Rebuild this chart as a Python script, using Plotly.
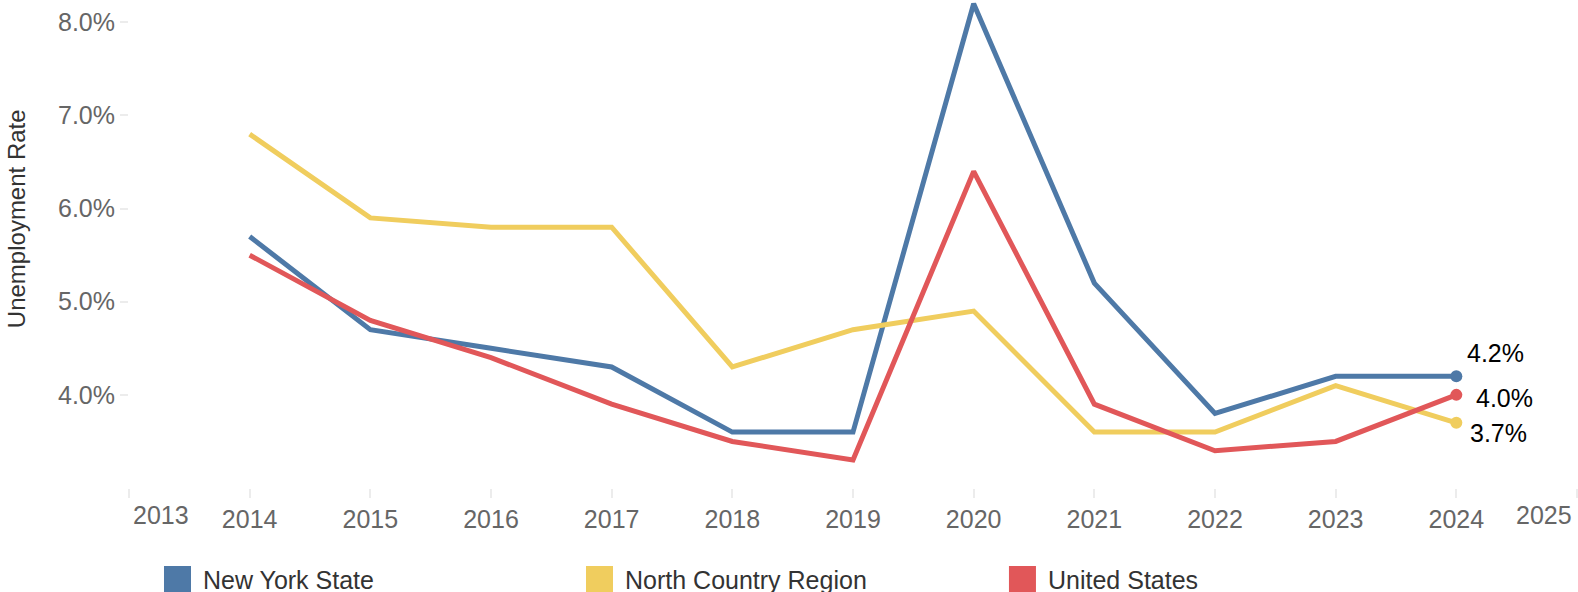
import plotly.graph_objects as go

years = [2014, 2015, 2016, 2017, 2018, 2019, 2020, 2021, 2022, 2023, 2024]
new_york_state = [5.7, 4.7, 4.5, 4.3, 3.6, 3.6, 8.2, 5.2, 3.8, 4.2, 4.2]
north_country = [6.8, 5.9, 5.8, 5.8, 4.3, 4.7, 4.9, 3.6, 3.6, 4.1, 3.7]
united_states = [5.5, 4.8, 4.4, 3.9, 3.5, 3.3, 6.4, 3.9, 3.4, 3.5, 4.0]

series_names = ["New York State", "North Country Region", "United States"]
series_values = [new_york_state, north_country, united_states]
colors = ["#4e79a7", "#f0cd5e", "#e15759"]

y_tickvals = [4.0, 5.0, 6.0, 7.0, 8.0]
x_tickvals = list(range(2013, 2026))
y_title = "Unemployment Rate"

FONT = "Liberation Sans, Arial, sans-serif"
FS = 25

fig = go.Figure()
for name, vals, col in zip(series_names, series_values, colors):
    fig.add_trace(go.Scatter(x=years, y=vals, mode="lines", name=name,
                             line=dict(color=col, width=5), showlegend=False,
                             hoverinfo="x+y"))
    fig.add_trace(go.Scatter(x=[years[-1]], y=[vals[-1]], mode="markers",
                             marker=dict(color=col, size=12), showlegend=False,
                             hoverinfo="skip"))

# end labels (order: NYS, North Country, US)
label_offsets = [(9, 23), (12, -10), (18, -3)]
for vals, (dx, dy) in zip(series_values, label_offsets):
    fig.add_annotation(x=years[-1], y=vals[-1], xref="x", yref="y",
                       text=f"{vals[-1]:.1f}%", showarrow=False,
                       xanchor="left", yanchor="middle",
                       xshift=dx, yshift=dy,
                       font=dict(family=FONT, size=FS, color="#000000"))

# custom x tick labels (edge ones shifted inside)
ticktext = [str(y) for y in x_tickvals]
ticktext[0] = ""
ticktext[-1] = ""
fig.add_annotation(x=x_tickvals[0], y=0, xref="x", yref="paper", yanchor="middle",
                   xanchor="left", text=str(x_tickvals[0]), showarrow=False,
                   xshift=2, yshift=-27, font=dict(family=FONT, size=FS, color="#666666"))
fig.add_annotation(x=x_tickvals[-1], y=0, xref="x", yref="paper", yanchor="middle",
                   xanchor="right", text=str(x_tickvals[-1]), showarrow=False,
                   xshift=-3, yshift=-27, font=dict(family=FONT, size=FS, color="#666666"))

# y axis title
fig.add_annotation(x=-0.078, y=0.551, xref="paper", yref="paper", textangle=-90,
                   xanchor="center", yanchor="middle", text=y_title, showarrow=False,
                   font=dict(family=FONT, size=24, color="#333333"))

# legend (squares + text)
leg_x = [0.02417, 0.3156, 0.6077]
for name, col, lx in zip(series_names, colors, leg_x):
    fig.add_shape(type="rect", xref="paper", yref="paper",
                  x0=lx, x1=lx + 0.01865, y0=-0.1598, y1=-0.23,
                  fillcolor=col, line=dict(width=0))
    fig.add_annotation(x=lx + 0.0255, y=-0.1885, xref="paper", yref="paper",
                       xanchor="left", yanchor="middle", text=name, showarrow=False,
                       font=dict(family=FONT, size=FS, color="#333333"))

fig.update_layout(
    width=1578, height=592,
    margin=dict(l=129, r=1, t=0, b=104, autoexpand=False),
    plot_bgcolor="white", paper_bgcolor="white",
    showlegend=False,
    font=dict(family=FONT, size=FS, color="#666666"),
    xaxis=dict(range=[2013, 2025], tickvals=x_tickvals, ticktext=ticktext,
               showgrid=False, zeroline=False, showline=False, automargin=False,
               ticks="outside", ticklen=9, tickcolor="#ececec", tickwidth=2,
               tickfont=dict(family=FONT, size=FS, color="#666666")),
    yaxis=dict(range=[3.0, 8.24], tickvals=y_tickvals,
               ticktext=[f"{v:.1f}%" for v in y_tickvals],
               showgrid=False, zeroline=False, showline=False, automargin=False,
               ticks="outside", ticklen=8, tickcolor="#ececec", tickwidth=2,
               tickfont=dict(family=FONT, size=FS, color="#666666")),
)

fig.write_html("out.html", config={"displayModeBar": False},
               post_script="document.body.style.margin='0px';")
